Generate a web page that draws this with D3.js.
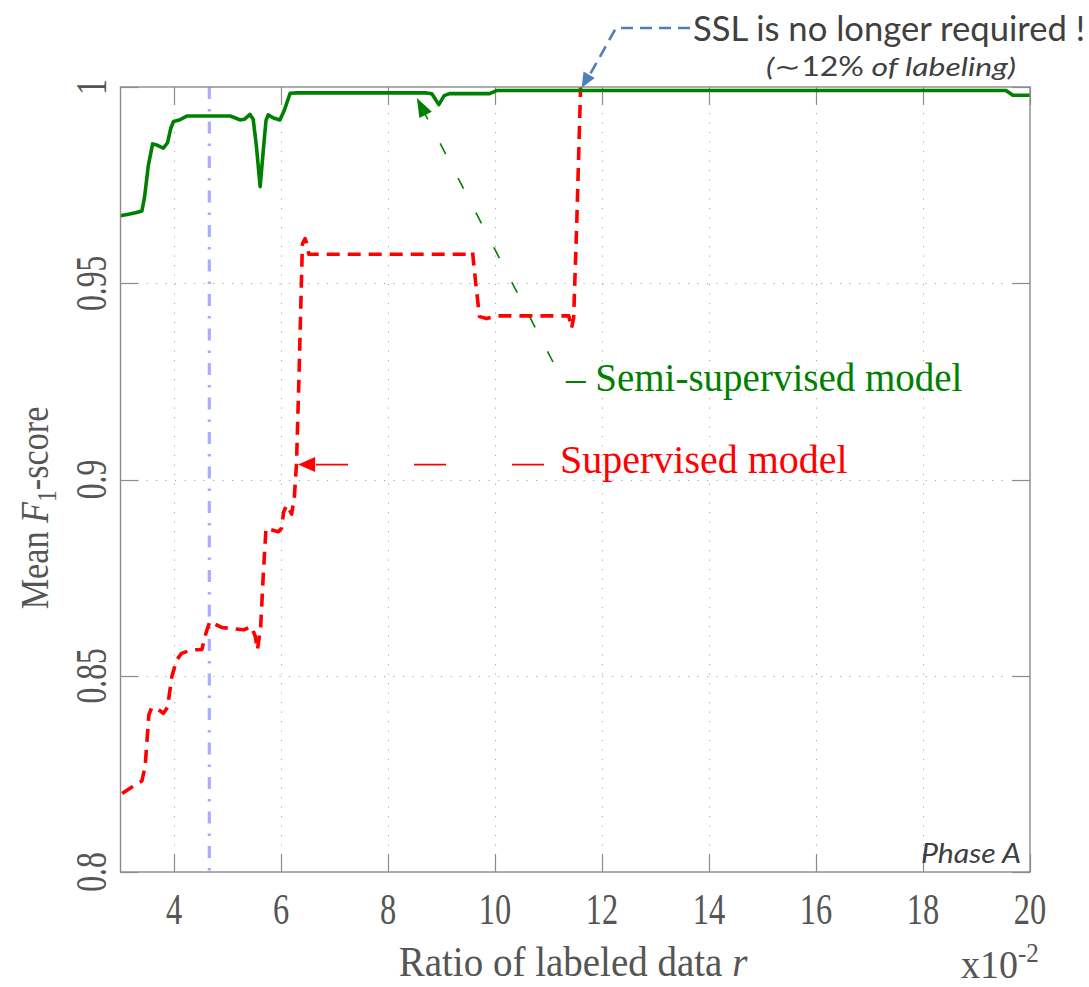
<!DOCTYPE html>
<html>
<head>
<meta charset="utf-8">
<script src="https://cdn.jsdelivr.net/npm/d3@7"></script>
<style>
  html, body { margin: 0; padding: 0; background: #fff; }
  svg { display: block; }
</style>
</head>
<body>
<svg id="chart" width="1089" height="987"></svg>
<script>
// Ratio of labeled data r (x10^-2) vs mean F1-score
const xTicks = [4, 6, 8, 10, 12, 14, 16, 18, 20];
const yTicks = [0.8, 0.85, 0.9, 0.95, 1];
const yTickLabels = ["0.8", "0.85", "0.9", "0.95", "1"];

// Semi-supervised model
const semiX = [3.00, 3.15, 3.30, 3.40, 3.45, 3.52, 3.60, 3.68, 3.80, 3.88, 3.94, 3.99, 4.10, 4.24, 4.60, 5.05,
               5.15, 5.23, 5.32, 5.42, 5.48, 5.54, 5.61, 5.67, 5.72, 5.76, 5.86, 5.98, 6.06, 6.17, 6.30,
               8.70, 8.82, 8.95, 9.05, 9.15, 9.90, 10.03, 19.55, 19.68, 20.0];
const semiY = [0.9672, 0.9676, 0.9680, 0.9684, 0.9720, 0.9800, 0.9855, 0.9852, 0.9844, 0.9858, 0.9895, 0.9912, 0.9916, 0.9926, 0.9926, 0.9926,
               0.9921, 0.9916, 0.9918, 0.9930, 0.9918, 0.9850, 0.9746, 0.9840, 0.9915, 0.9929, 0.9921, 0.9916, 0.9940, 0.9984, 0.9985,
               0.9985, 0.9983, 0.9955, 0.9978, 0.9983, 0.9983, 0.9991, 0.9991, 0.9979, 0.9979];

// Supervised model
const supX = [3.03, 3.20, 3.40, 3.46, 3.53, 3.58, 3.70, 3.80, 3.88, 3.96, 4.05, 4.14, 4.33, 4.52, 4.60, 4.67,
              4.89, 5.30, 5.45, 5.52, 5.56, 5.62, 5.67, 5.72, 5.95, 6.01, 6.05, 6.11, 6.20, 6.25, 6.29,
              6.34, 6.40, 6.45, 6.49, 6.52, 9.47, 9.58, 9.64, 9.71, 9.84, 10.03, 11.38, 11.43, 11.47, 11.53, 11.60];
const supY = [0.8200, 0.8215, 0.8232, 0.8268, 0.8400, 0.8418, 0.8415, 0.8404, 0.8420, 0.8498, 0.8540, 0.8557, 0.8566, 0.8567, 0.8610, 0.8638,
              0.8623, 0.8617, 0.8625, 0.8600, 0.8566, 0.8625, 0.8760, 0.8876, 0.8867, 0.8876, 0.8918, 0.8935, 0.8912, 0.8956, 0.9041,
              0.9280, 0.9600, 0.9614, 0.9598, 0.9574, 0.9574, 0.9580, 0.9500, 0.9415, 0.9410, 0.9417, 0.9417, 0.9385, 0.9412, 0.9661, 1.0000];

// Reference ratio marked by the dash-dot line
const markerX = 4.66;

const svg = d3.select("#chart");
const plot = { left: 120.5, right: 1030, top: 87, bottom: 872 };

const x = d3.scaleLinear().domain([3, 20]).range([plot.left, plot.right]);
const y = d3.scaleLinear().domain([0.8, 1]).range([plot.bottom, plot.top]);

const serif = "'Liberation Serif', 'Times New Roman', serif";
const sans = "Lato, 'Open Sans', sans-serif";
const textGrey = "#555";

// dotted grid
const grid = svg.append("g").attr("stroke", "#a8a8a8").attr("stroke-width", 1)
  .attr("stroke-dasharray", "1.2,8.3").attr("fill", "none");
grid.selectAll("line.vx").data(xTicks.filter(t => t > 3 && t < 20)).join("line")
  .attr("x1", d => Math.round(x(d)) + 0.5).attr("x2", d => Math.round(x(d)) + 0.5)
  .attr("y1", plot.top + 26).attr("y2", plot.bottom - 20);
grid.selectAll("line.hy").data(yTicks.filter(t => t > 0.8 && t < 1)).join("line")
  .attr("y1", d => Math.round(y(d)) + 0.5).attr("y2", d => Math.round(y(d)) + 0.5)
  .attr("x1", plot.left + 26).attr("x2", plot.right - 20);

// tick marks inside the frame (both sides)
const ticks = svg.append("g").attr("stroke", "#8c8c8c").attr("stroke-width", 1.2);
xTicks.forEach(t => {
  const px = Math.round(x(t)) + 0.5;
  ticks.append("line").attr("x1", px).attr("x2", px).attr("y1", plot.top).attr("y2", plot.top + 18);
  ticks.append("line").attr("x1", px).attr("x2", px).attr("y1", plot.bottom).attr("y2", plot.bottom - 18);
});
yTicks.forEach(t => {
  const py = Math.round(y(t)) + 0.5;
  ticks.append("line").attr("y1", py).attr("y2", py).attr("x1", plot.left).attr("x2", plot.left + 18);
  ticks.append("line").attr("y1", py).attr("y2", py).attr("x1", plot.right).attr("x2", plot.right - 18);
});

// dash-dot vertical marker
svg.append("line")
  .attr("x1", x(markerX)).attr("x2", x(markerX))
  .attr("y1", plot.top).attr("y2", plot.bottom)
  .attr("stroke", "#a9acff").attr("stroke-width", 3.2)
  .attr("stroke-dasharray", "12,10,2.5,10");

// curves
const line = (xs, ys) => d3.line().x((d, i) => x(xs[i])).y((d, i) => y(ys[i])).curve(d3.curveLinear)(xs);

svg.append("path").attr("d", line(supX, supY))
  .attr("fill", "none").attr("stroke", "#ff0000").attr("stroke-width", 3.6)
  .attr("stroke-dasharray", "13,8").attr("stroke-linejoin", "round");

svg.append("path").attr("d", line(semiX, semiY))
  .attr("fill", "none").attr("stroke", "#008000").attr("stroke-width", 3.6)
  .attr("stroke-linejoin", "round");

// frame
svg.append("rect")
  .attr("x", plot.left).attr("y", plot.top)
  .attr("width", plot.right - plot.left).attr("height", plot.bottom - plot.top)
  .attr("fill", "none").attr("stroke", "#8a8a8a").attr("stroke-width", 1.4);

// x tick labels
svg.append("g").selectAll("text").data(xTicks).join("text")
  .attr("transform", d => `translate(${x(d)},924) scale(0.9,1.22)`)
  .attr("text-anchor", "middle")
  .attr("font-family", serif).attr("font-size", 36).attr("fill", textGrey)
  .text(d => d);

// y tick labels (rotated)
svg.append("g").selectAll("text").data(yTicks).join("text")
  .attr("transform", d => `translate(106,${y(d)}) rotate(-90) scale(0.88,1.22)`)
  .attr("text-anchor", "middle")
  .attr("font-family", serif).attr("font-size", 36).attr("fill", textGrey)
  .text((d, i) => yTickLabels[i]);

// axis titles
const yTitle = svg.append("text")
  .attr("transform", "translate(48,508) rotate(-90) scale(0.95,1.1)")
  .attr("text-anchor", "middle")
  .attr("font-family", serif).attr("font-size", 36).attr("fill", textGrey);
yTitle.append("tspan").text("Mean ");
yTitle.append("tspan").attr("font-style", "italic").text("F");
yTitle.append("tspan").attr("font-size", 25).attr("dy", 7).text("1");
yTitle.append("tspan").attr("dy", -7).text("-score");

const xTitle = svg.append("text")
  .attr("transform", "translate(573,976) scale(1,1.07)")
  .attr("text-anchor", "middle")
  .attr("font-family", serif).attr("font-size", 39).attr("fill", textGrey);
xTitle.append("tspan").text("Ratio of labeled data ");
xTitle.append("tspan").attr("font-style", "italic").text("r");

const scaleNote = svg.append("text")
  .attr("transform", "translate(961,978) scale(1,1.07)")
  .attr("font-family", serif).attr("font-size", 38).attr("fill", textGrey);
scaleNote.append("tspan").text("x10");
scaleNote.append("tspan").attr("font-size", 25).attr("dy", -15).text("-2");

// Phase label
svg.append("text")
  .attr("x", 921).attr("y", 863)
  .attr("font-family", sans).attr("font-style", "italic").attr("font-size", 27)
  .attr("textLength", 100).attr("lengthAdjust", "spacingAndGlyphs")
  .attr("fill", "#404040").text("Phase A");

// arrowhead helper
function arrowHead(g, tipX, tipY, fromX, fromY, len, halfW, color) {
  const a = Math.atan2(tipY - fromY, tipX - fromX);
  const bx = tipX - len * Math.cos(a), by = tipY - len * Math.sin(a);
  const nx = -Math.sin(a) * halfW, ny = Math.cos(a) * halfW;
  g.append("path")
    .attr("d", `M${tipX},${tipY}L${bx + nx},${by + ny}L${bx - nx},${by - ny}Z`)
    .attr("fill", color);
}

const notes = svg.append("g");

// Supervised model label with long-dash leader
const supTip = { x: x(6.32), y: y(0.9038) };
notes.append("line")
  .attr("x1", 544).attr("y1", supTip.y).attr("x2", supTip.x + 14).attr("y2", supTip.y)
  .attr("stroke", "#ff0000").attr("stroke-width", 1.6).attr("stroke-dasharray", "32,66");
arrowHead(notes, supTip.x, supTip.y, 544, supTip.y, 17, 7.5, "#ff0000");
notes.append("text")
  .attr("x", 560).attr("y", 473)
  .attr("font-family", serif).attr("font-size", 40).attr("fill", "#ff0000")
  .text("Supervised model");

// Semi-supervised model label with dashed leader
const semiTip = { x: x(8.54), y: y(0.9972) };
const semiFrom = { x: 553, y: 362 };
notes.append("line")
  .attr("x1", semiFrom.x).attr("y1", semiFrom.y)
  .attr("x2", semiTip.x + 5).attr("y2", semiTip.y + 10)
  .attr("stroke", "#008000").attr("stroke-width", 1.6).attr("stroke-dasharray", "12,27");
arrowHead(notes, semiTip.x, semiTip.y, semiFrom.x, semiFrom.y, 19, 7, "#008000");
notes.append("text")
  .attr("x", 566).attr("y", 391)
  .attr("font-family", serif).attr("font-size", 39).attr("fill", "#008000")
  .text("\u2013 Semi-supervised model");

// SSL note with dashed elbow arrow
const sslTip = { x: x(11.62), y: y(0.9993) - 2 };
const elbow = { x: 616, y: 28 };
notes.append("path")
  .attr("d", `M690,${elbow.y}L${elbow.x},${elbow.y}L${sslTip.x + 7},${sslTip.y - 11}`)
  .attr("fill", "none").attr("stroke", "#4f7fba").attr("stroke-width", 2.6)
  .attr("stroke-dasharray", "12,7");
arrowHead(notes, sslTip.x, sslTip.y, elbow.x, elbow.y, 15, 6.5, "#4f7fba");
notes.append("text")
  .attr("x", 693).attr("y", 41)
  .attr("font-family", sans).attr("font-size", 35).attr("fill", "#404040")
  .attr("textLength", 392).attr("lengthAdjust", "spacingAndGlyphs")
  .text("SSL is no longer required !");
const pct = notes.append("text")
  .attr("x", 766).attr("y", 76)
  .attr("font-family", sans).attr("font-size", 26).attr("fill", "#404040")
  .attr("textLength", 250).attr("lengthAdjust", "spacingAndGlyphs");
pct.append("tspan").attr("font-style", "italic").text("(");
pct.append("tspan").text("\u223c12%");
pct.append("tspan").attr("font-style", "italic").text(" of labeling)");
</script>
</body>
</html>
